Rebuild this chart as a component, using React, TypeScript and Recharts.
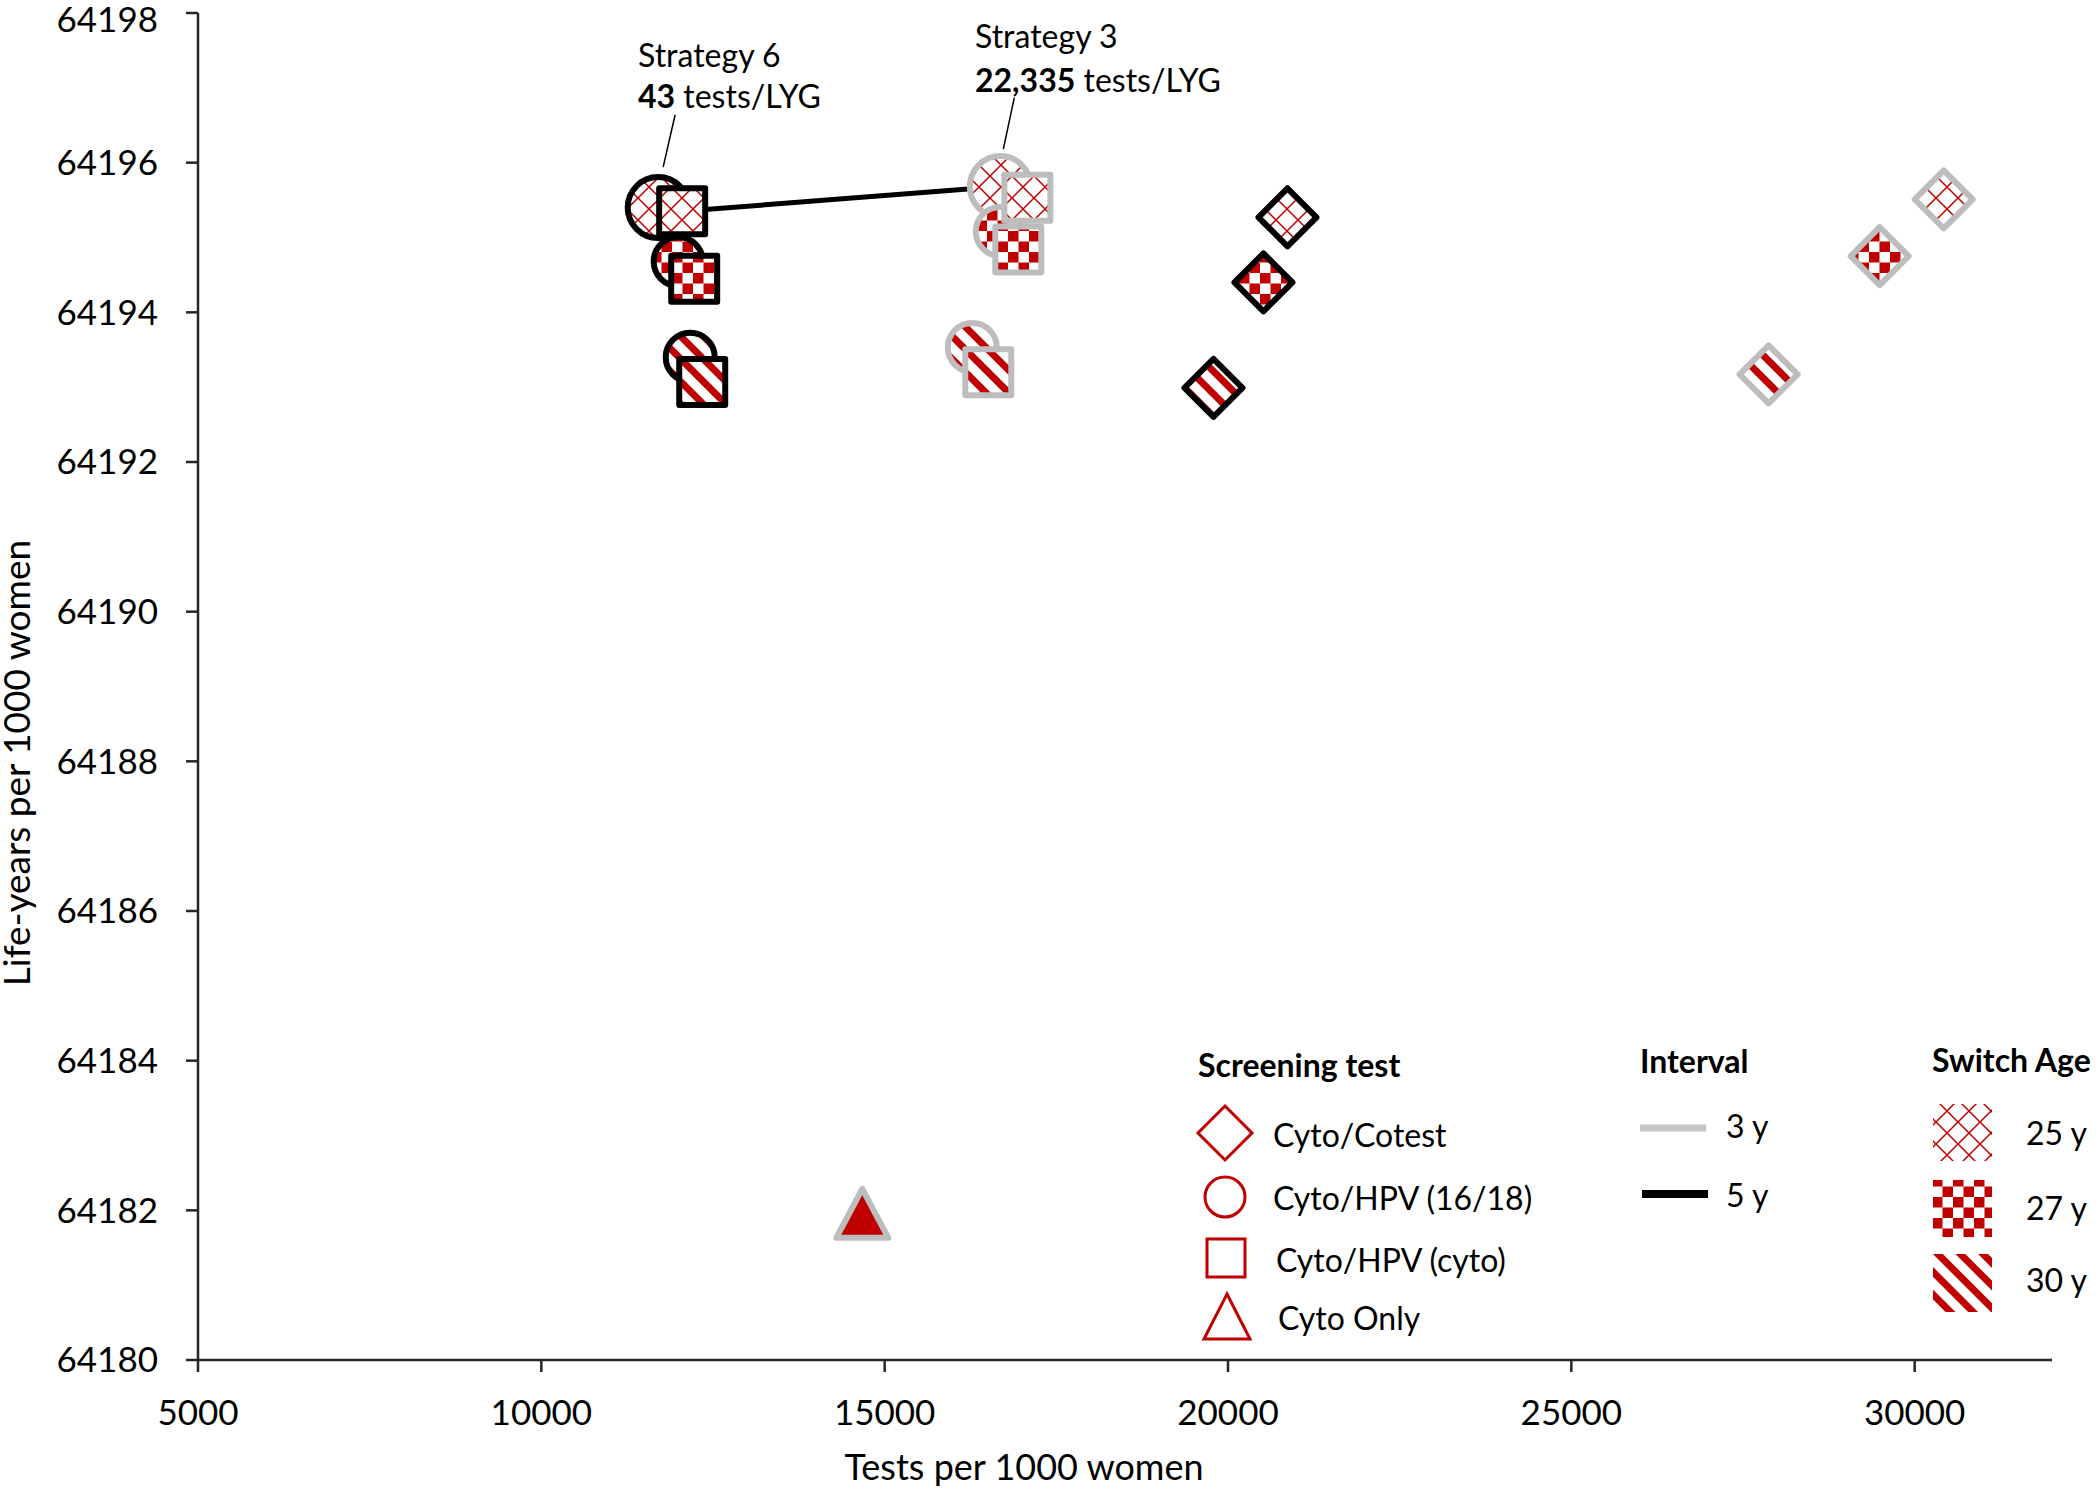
import React from 'react';
import { ScatterChart, Scatter, XAxis, YAxis, ReferenceLine } from 'recharts';

const RED = '#C00000';
const GREY = '#BDBDBD';
const FONT = 'Lato, "Open Sans", sans-serif';

const xTicks = [5000, 10000, 15000, 20000, 25000, 30000];
const yTicks = [64180, 64182, 64184, 64186, 64188, 64190, 64192, 64194, 64196, 64198];

// x = tests per 1000 women, y = life-years per 1000 women, age = switch age
const cotest3y = [
  { x: 30423, y: 64195.51, age: 25 },
  { x: 29490, y: 64194.75, age: 27 },
  { x: 27873, y: 64193.17, age: 30 },
];
const cotest5y = [
  { x: 20866, y: 64195.27, age: 25 },
  { x: 20516, y: 64194.4, age: 27 },
  { x: 19788, y: 64192.99, age: 30 },
];
const hpv1618_3y = [
  { x: 16684, y: 64195.68, age: 25 },
  { x: 16684, y: 64195.08, age: 27 },
  { x: 16276, y: 64193.53, age: 30 },
];
const hpv1618_5y = [
  { x: 11702, y: 64195.4, age: 25 },
  { x: 11993, y: 64194.68, age: 27 },
  { x: 12168, y: 64193.4, age: 30 },
];
const hpvCyto3y = [
  { x: 17078, y: 64195.53, age: 25 },
  { x: 16946, y: 64194.84, age: 27 },
  { x: 16509, y: 64193.2, age: 30 },
];
const hpvCyto5y = [
  { x: 12051, y: 64195.35, age: 25 },
  { x: 12226, y: 64194.45, age: 27 },
  { x: 12343, y: 64193.07, age: 30 },
];
const cytoOnly = [{ x: 14674, y: 64181.94 }];

// efficient frontier: strategy 6 -> strategy 3
const frontier = [
  { x: 12051, y: 64195.35 },
  { x: 16684, y: 64195.68 },
];

// annotation leader lines
const leaders = [
  [{ x: 11949, y: 64196.64 }, { x: 11774, y: 64195.94 }],
  [{ x: 16888, y: 64196.87 }, { x: 16728, y: 64196.18 }],
];

function Patterns({ prefix }: { prefix: string }) {
  return (
    <defs>
      <pattern id={`${prefix}-25`} patternUnits="userSpaceOnUse" width={22} height={22}>
        <rect width={22} height={22} fill="#fff" />
        <path d="M0 0L22 22M22 0L0 22" stroke={RED} strokeWidth={1.5} />
      </pattern>
      <pattern id={`${prefix}-27`} patternUnits="userSpaceOnUse" width={21} height={21}>
        <rect width={21} height={21} fill="#fff" />
        <rect width={10.5} height={10.5} fill={RED} />
        <rect x={10.5} y={10.5} width={10.5} height={10.5} fill={RED} />
      </pattern>
      <pattern id={`${prefix}-30`} patternUnits="userSpaceOnUse" width={16} height={16} patternTransform="rotate(-45)">
        <rect width={16} height={16} fill="#fff" />
        <rect width={7} height={16} fill={RED} />
      </pattern>
    </defs>
  );
}

type Kind = 'diamond' | 'circle' | 'square';

const makeShape = (kind: Kind, stroke: string) => (props: any) => {
  const { cx, cy, payload } = props;
  if (cx == null || cy == null) return <g />;
  const fill = `url(#pat-${payload.age})`;
  const common = { fill, stroke, strokeWidth: 6, strokeLinejoin: 'round' as const };
  if (kind === 'circle') {
    const r = payload.age === 25 ? 30.5 : 24.5;
    return <circle cx={cx} cy={cy} r={r} {...common} />;
  }
  if (kind === 'square') {
    const h = 23;
    return <rect x={cx - h} y={cy - h} width={2 * h} height={2 * h} {...common} />;
  }
  const d = 29;
  return <path d={`M${cx} ${cy - d}L${cx + d} ${cy}L${cx} ${cy + d}L${cx - d} ${cy}Z`} {...common} />;
};

const triangleShape = (props: any) => {
  const { cx, cy } = props;
  return (
    <path
      d={`M${cx} ${cy - 26}L${cx + 26} ${cy + 23}L${cx - 26} ${cy + 23}Z`}
      fill={RED}
      stroke={GREY}
      strokeWidth={6}
      strokeLinejoin="round"
    />
  );
};

const tickStyle = { fill: '#000', fontSize: 35, fontFamily: FONT };
const axisLine = { stroke: '#262626', strokeWidth: 2.5 };

function Overlay() {
  const txt = { fontFamily: FONT, fontSize: 32, fill: '#000' };
  const head = { ...txt, fontWeight: 700 };
  return (
    <svg
      width={2100}
      height={1491}
      style={{ position: 'absolute', left: 0, top: 0, pointerEvents: 'none' }}
    >
      <Patterns prefix="lg" />
      {/* axis titles */}
      <text x={1024} y={1480} textAnchor="middle" style={{ ...txt, fontSize: 36 }}>
        Tests per 1000 women
      </text>
      <text transform="translate(30,763) rotate(-90)" textAnchor="middle" style={{ ...txt, fontSize: 37 }}>
        Life-years per 1000 women
      </text>

      {/* annotations */}
      <text x={638} y={67} style={txt}>Strategy 6</text>
      <text x={638} y={108} style={txt}>
        <tspan fontWeight={700}>43</tspan> tests/LYG
      </text>
      <text x={975} y={48} style={txt}>Strategy 3</text>
      <text x={975} y={92} style={txt}>
        <tspan fontWeight={700}>22,335</tspan> tests/LYG
      </text>

      {/* legend: screening test */}
      <text x={1198} y={1077} style={head}>Screening test</text>
      <path d="M1225 1106L1252 1133L1225 1160L1198 1133Z" fill="none" stroke={RED} strokeWidth={3} />
      <text x={1273} y={1147} style={txt}>Cyto/Cotest</text>
      <circle cx={1225} cy={1197} r={20} fill="none" stroke={RED} strokeWidth={3} />
      <text x={1273} y={1210} style={txt}>Cyto/HPV (16/18)</text>
      <rect x={1207} y={1239} width={38} height={38} fill="none" stroke={RED} strokeWidth={3} />
      <text x={1276} y={1272} style={txt}>Cyto/HPV (cyto)</text>
      <path d="M1227 1294L1250 1339L1204 1339Z" fill="none" stroke={RED} strokeWidth={3} />
      <text x={1278} y={1330} style={txt}>Cyto Only</text>

      {/* legend: interval */}
      <text x={1640} y={1073} style={head}>Interval</text>
      <line x1={1640} y1={1128} x2={1706} y2={1128} stroke="#C6C6C6" strokeWidth={7} />
      <text x={1726} y={1138} style={txt}>3 y</text>
      <line x1={1642} y1={1194} x2={1708} y2={1194} stroke="#000" strokeWidth={8} />
      <text x={1726} y={1207} style={txt}>5 y</text>

      {/* legend: switch age */}
      <text x={1932} y={1072} style={head}>Switch Age</text>
      <rect x={1933} y={1104} width={59} height={57} fill="url(#lg-25)" />
      <text x={2026} y={1145} style={txt}>25 y</text>
      <rect x={1933} y={1180} width={59} height={57} fill="url(#lg-27)" />
      <text x={2026} y={1220} style={txt}>27 y</text>
      <rect x={1933} y={1254} width={59} height={58} fill="url(#lg-30)" />
      <text x={2026} y={1292} style={txt}>30 y</text>
    </svg>
  );
}

export default function App() {
  return (
    <div style={{ position: 'absolute', left: 0, top: 0, width: 2100, height: 1491, background: '#fff' }}>
      <ScatterChart width={2100} height={1491} margin={{ top: 13, right: 48, bottom: 0, left: 0 }}>
        <Patterns prefix="pat" />
        <XAxis
          type="number"
          dataKey="x"
          domain={[5000, 32000]}
          ticks={xTicks}
          allowDataOverflow
          height={131}
          tickSize={12}
          tickMargin={28}
          tick={tickStyle}
          axisLine={axisLine}
          tickLine={axisLine}
        />
        <YAxis
          type="number"
          dataKey="y"
          domain={[64180, 64198]}
          ticks={yTicks}
          allowDataOverflow
          width={198}
          tickSize={12}
          tickMargin={28}
          tick={tickStyle}
          axisLine={axisLine}
          tickLine={axisLine}
        />
        {leaders.map((seg, i) => (
          <ReferenceLine key={i} segment={seg} stroke="#000" strokeWidth={1.5} ifOverflow="visible" />
        ))}
        <Scatter
          data={frontier}
          line={{ stroke: '#000', strokeWidth: 5 }}
          shape={() => <g />}
          isAnimationActive={false}
        />
        <Scatter data={hpv1618_3y} shape={makeShape('circle', GREY)} isAnimationActive={false} />
        <Scatter data={hpv1618_5y} shape={makeShape('circle', '#000')} isAnimationActive={false} />
        <Scatter data={hpvCyto3y} shape={makeShape('square', GREY)} isAnimationActive={false} />
        <Scatter data={hpvCyto5y} shape={makeShape('square', '#000')} isAnimationActive={false} />
        <Scatter data={cotest3y} shape={makeShape('diamond', GREY)} isAnimationActive={false} />
        <Scatter data={cotest5y} shape={makeShape('diamond', '#000')} isAnimationActive={false} />
        <Scatter data={cytoOnly} shape={triangleShape} isAnimationActive={false} />
      </ScatterChart>
      <Overlay />
    </div>
  );
}
